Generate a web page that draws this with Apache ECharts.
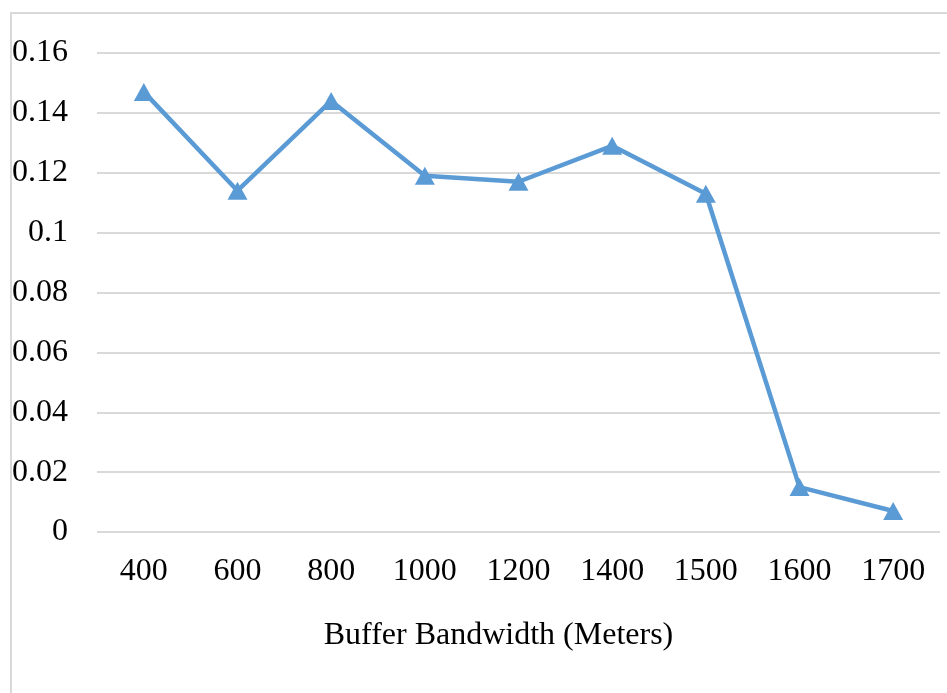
<!DOCTYPE html>
<html><head><meta charset="utf-8">
<script src="https://cdn.jsdelivr.net/npm/echarts@6/dist/echarts.min.js"></script>
<style>html,body{margin:0;padding:0;background:#fff}#c{width:947px;height:693px}</style>
</head><body><div id="c"></div>
<script>
const categories = ['400','600','800','1000','1200','1400','1500','1600','1700'];
const values = [0.147, 0.114, 0.144, 0.119, 0.117, 0.129, 0.113, 0.015, 0.007];
const xTitle = 'Buffer Bandwidth (Meters)';
const yMin = 0, yMax = 0.16, yStep = 0.02;

const chart = echarts.init(document.getElementById('c'), null, {renderer:'canvas'});
const font = '"Liberation Serif", "Times New Roman", serif';
chart.setOption({
  animation: false,
  backgroundColor: '#fff',
  graphic: [{
    type: 'rect', silent: true, z: -1,
    shape: {x: 11, y: 13, width: 960, height: 700},
    style: {fill: 'none', stroke: '#d9d9d9', lineWidth: 2}
  }],
  grid: {left: 97, right: 7, top: 53, bottom: 161, containLabel: false},
  xAxis: {
    type: 'category', data: categories, boundaryGap: true,
    axisLine: {show: false}, axisTick: {show: false},
    axisLabel: {fontFamily: font, fontSize: 32, color: '#000', margin: 24},
    name: xTitle, nameLocation: 'middle', nameGap: 88,
    nameTextStyle: {fontFamily: font, fontSize: 32, color: '#000', padding: [0, 40, 0, 0]}
  },
  yAxis: {
    type: 'value', min: yMin, max: yMax, interval: yStep,
    axisLine: {show: false}, axisTick: {show: false},
    axisLabel: {fontFamily: font, fontSize: 32, color: '#000', margin: 29,
      formatter: v => String(+v.toFixed(2))},
    splitLine: {lineStyle: {color: '#d9d9d9', width: 2}}
  },
  series: [{
    type: 'line', data: values,
    symbol: 'triangle', symbolSize: [20, 18],
    lineStyle: {color: '#5b9bd5', width: 4.5},
    itemStyle: {color: '#5b9bd5'}
  }]
});
</script></body></html>
